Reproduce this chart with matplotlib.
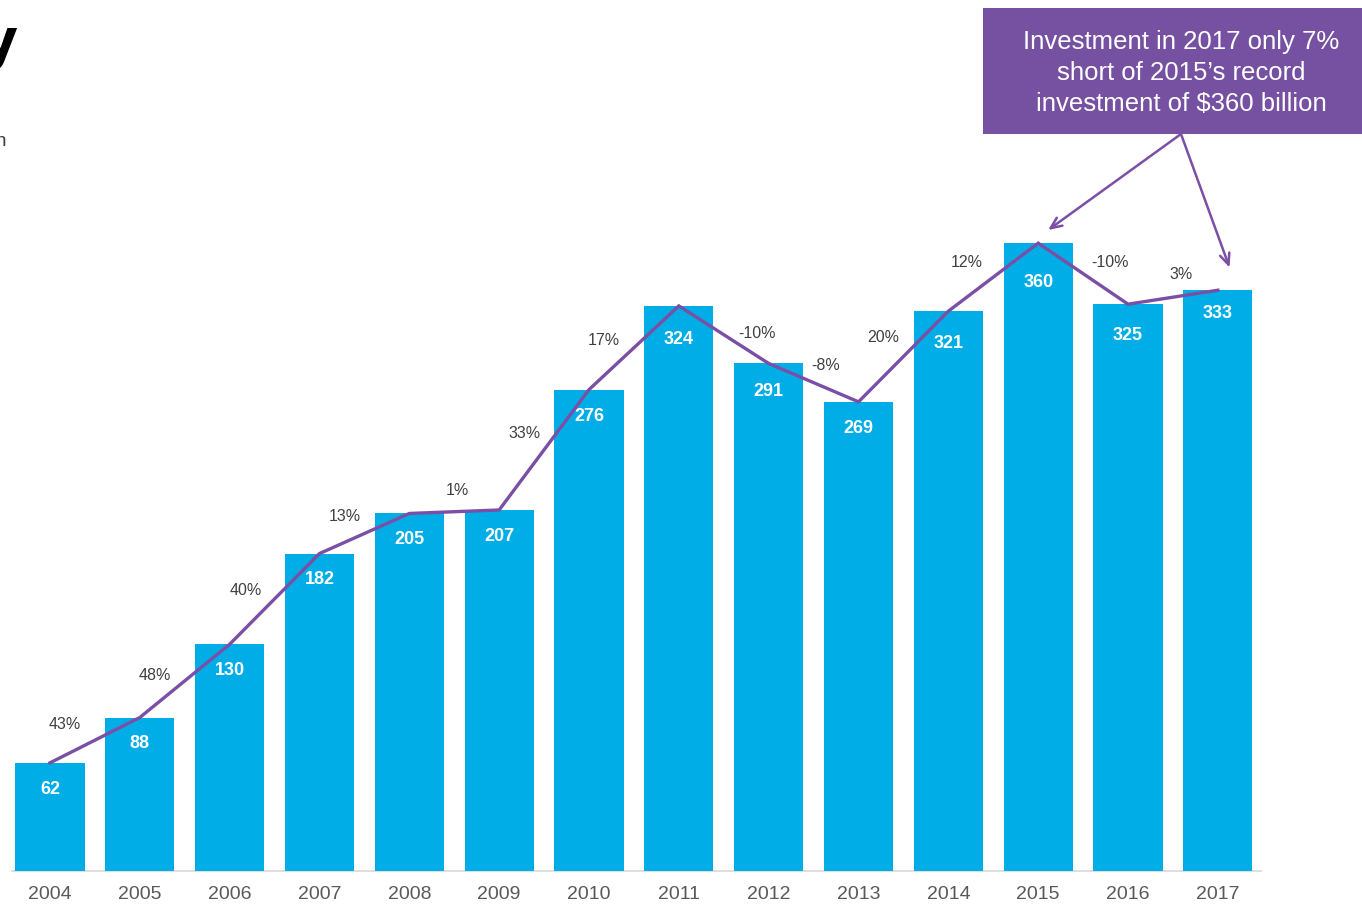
import matplotlib.pyplot as plt
import numpy as np

plt.rcParams['font.family'] = ['Liberation Sans', 'DejaVu Sans']

years = ['2004', '2005', '2006', '2007', '2008', '2009', '2010',
         '2011', '2012', '2013', '2014', '2015', '2016', '2017']
investment = [62, 88, 130, 182, 205, 207, 276, 324, 291, 269, 321, 360, 325, 333]
growth = ['43%', '48%', '40%', '13%', '1%', '33%', '17%',
          '-10%', '-8%', '20%', '12%', '-10%', '3%']

# where each growth label sits (x in bar units, y in $bn)
growth_x = [0.17, 1.17, 2.18, 3.28, 4.53, 5.28, 6.17, 7.87, 8.63, 9.27, 10.21, 11.80, 12.59]
growth_y = [84, 112, 161, 203, 218, 251, 304, 308, 290, 306, 349, 349, 342]

# how far (points) each value label sits below its bar top
label_drop = [19, 19, 19, 19, 19, 19, 19.5, 24, 20, 19.5, 23, 28, 22.5, 17]

note = "Investment in 2017 only 7%\nshort of 2015\u2019s record\ninvestment of $360 billion"

bar_color = '#00ade6'
line_color = '#7a4fa5'
box_color = '#7651a1'

fig = plt.figure(figsize=(13.62, 9.06), dpi=100)
ax = fig.add_axes([0, 0, 1, 1])
ax.set_xlim(-0.556, 14.604)
ax.set_ylim(-20.07, 499.4)
ax.axis('off')

x = np.arange(len(years))
ax.bar(x, investment, width=0.77, color=bar_color, zorder=2)
ax.plot([-0.42, 13.48], [0, 0], color='#d9d9d9', lw=1.2, zorder=1)
ax.plot(x, investment, color=line_color, lw=2.4, zorder=3, solid_joinstyle='miter')

for xi, v, yr, d in zip(x, investment, years, label_drop):
    ax.annotate(str(v), (xi, v), xytext=(0, -d), textcoords='offset points',
                ha='center', va='center', color='white', fontsize=13,
                fontweight='bold', zorder=4)
    ax.text(xi, -13.6, yr, ha='center', va='center', color='#595959', fontsize=14)

for gx, gy, g in zip(growth_x, growth_y, growth):
    ax.text(gx, gy, g, ha='center', va='center', color='#404040', fontsize=11.5, zorder=4)

# cropped heading and subheading at the left edge
fig.text(17 / 1362, 1 - 58 / 906, 'y', ha='right', va='baseline', fontsize=40,
         fontweight='bold', color='black', family='DejaVu Sans')
fig.text(6 / 1362, 1 - 146 / 906, '$ billion', ha='right', va='baseline',
         fontsize=14, color='#404040')

# callout box
fig.patches.append(plt.Rectangle((983 / 1362, 1 - 134 / 906), 400 / 1362, 126 / 906,
                                 transform=fig.transFigure, facecolor=box_color,
                                 edgecolor='none', zorder=5))
fig.text(1181 / 1362, 1 - 73 / 906, note, ha='center', va='center', color='white',
         fontsize=18.5, linespacing=1.37, zorder=6)

box_bottom = fig.transFigure.transform((1181 / 1362, 1 - 134 / 906))
box_bottom = ax.transData.inverted().transform(box_bottom)
for tx, ty in [(11.11, 367.5), (13.13, 346)]:
    ax.annotate('', xy=(tx, ty), xytext=tuple(box_bottom),
                arrowprops=dict(arrowstyle='->,head_length=0.8,head_width=0.35',
                                color=line_color, lw=1.8, shrinkA=0, shrinkB=0),
                zorder=5)

fig.savefig('out.png', dpi=100)
